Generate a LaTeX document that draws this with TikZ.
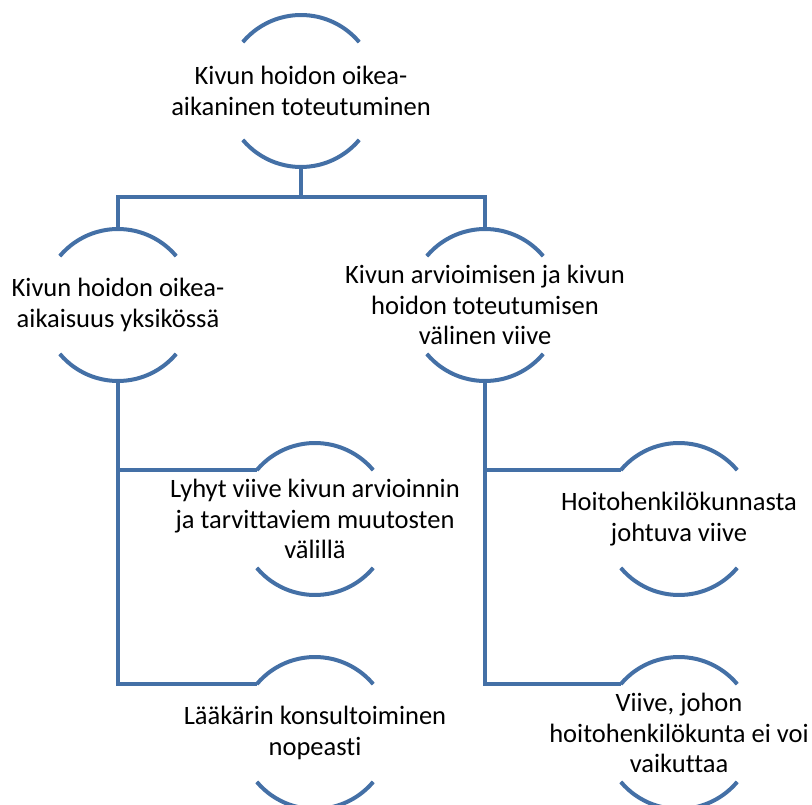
\documentclass[tikz,border=0pt]{standalone}
\usepackage{fontspec}
\setmainfont[Ligatures=NoCommon]{Carlito}
\usepackage{tikz}
\usetikzlibrary{positioning}
\definecolor{hoitoblue}{RGB}{68,112,166}

\begin{document}
\begin{tikzpicture}[x=1pt,y=1pt,
    conn/.style={draw=hoitoblue, line width=4pt},
    lbl/.style={align=center, inner sep=0pt, font=\fontsize{26.5}{30.5}\selectfont}]
  \useasboundingbox (0,0) rectangle (812,-805);

  \node[lbl] (top) at (301,-91) {Kivun hoidon oikea-\\aikaninen toteutuminen};
  \node[lbl] (l) at (118,-305) {Kivun hoidon oikea-\\aikaisuus yksikössä};
  \node[lbl] (r) at (485,-305) {Kivun arvioimisen ja kivun\\hoidon toteutumisen\\välinen viive};
  \node[lbl] (l1) at (315,-519) {Lyhyt viive kivun arvioinnin\\ja tarvittaviem muutosten\\välillä};
  \node[lbl] (l2) at (315,-733) {Lääkärin konsultoiminen\\nopeasti};
  \node[lbl] (r1) at (679,-519) {Hoitohenkilökunnasta\\johtuva viive};
  \node[lbl] (r2) at (679,-733) {Viive, johon\\hoitohenkilökunta ei voi\\vaikuttaa};

  \foreach \n in {top,l,r,l1,l2,r1,r2} {
    \draw[conn] ([shift={(140:76)}]\n.center) arc (140:40:76);
    \draw[conn] ([shift={(220:76)}]\n.center) arc (220:320:76);
  }

  \draw[conn] ([yshift=-76pt]top.center) -- ++(0,-30) coordinate (bar)
    -| ([yshift=76pt]l.center);
  \draw[conn] (bar) -| ([yshift=76pt]r.center);
  \draw[conn] ([yshift=-76pt]l.center) |- ([shift={(140:76)}]l1.center);
  \draw[conn] ([yshift=-76pt]l.center) |- ([shift={(140:76)}]l2.center);
  \draw[conn] ([yshift=-76pt]r.center) |- ([shift={(140:76)}]r1.center);
  \draw[conn] ([yshift=-76pt]r.center) |- ([shift={(140:76)}]r2.center);
\end{tikzpicture}
\end{document}
